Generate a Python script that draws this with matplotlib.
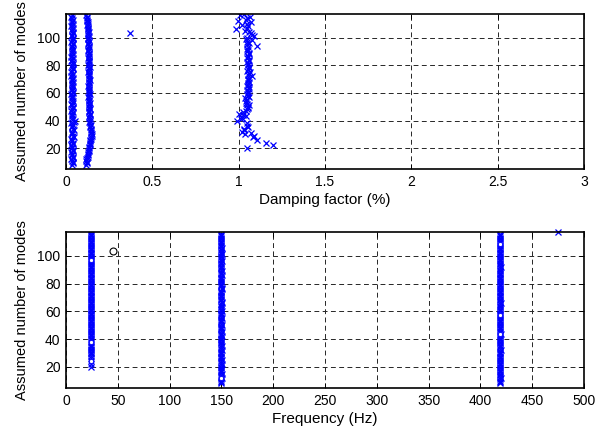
import matplotlib
matplotlib.use("Agg")
import matplotlib.pyplot as plt

plt.rcParams['font.family'] = ['Liberation Sans', 'DejaVu Sans']
plt.rcParams['font.size'] = 10

# Model orders at which poles were identified
orders = [8, 10, 12, 14, 16, 18, 20, 22, 24, 26,
          28, 30, 32, 34, 36, 38, 40, 42, 44, 46,
          48, 50, 52, 54, 56, 58, 60, 62, 64, 66,
          68, 70, 72, 74, 76, 78, 80, 82, 84, 86,
          88, 90, 92, 94, 96, 98, 100, 102, 104, 106,
          108, 110, 112, 114, 116]
orders_odd = [9, 11, 13, 15, 17, 19, 21, 23, 25, 27,
              29, 31, 33, 35, 37, 39, 41, 43, 45, 47,
              49, 51, 53, 55, 57, 59, 61, 63, 65, 67,
              69, 71, 73, 75, 77, 79, 81, 83, 85, 87,
              89, 91, 93, 95, 97, 99, 101, 103, 105, 107,
              109, 111, 113, 115]
orders_c = [20, 22, 24, 26, 28, 30, 32, 34, 36, 38,
            40, 42, 44, 46, 48, 50, 52, 54, 56, 58,
            60, 62, 64, 66, 68, 70, 72, 74, 76, 78,
            80, 82, 84, 86, 88, 90, 92, 94, 96, 98,
            100, 102, 104, 106, 108, 110, 112, 114, 116]
orders_c_mid = [47, 49, 51, 53, 55, 57, 59, 61, 63, 65,
                67, 69, 71, 73, 75, 77, 79, 81, 83, 85,
                87, 89, 91, 93, 95, 97]
orders_c2 = [117, 115, 113, 111, 109, 107, 105, 103, 101, 99,
             45, 43, 41, 35, 33, 31, 29]

# Mode A (~419 Hz, lightly damped)
damp_a = [0.035, 0.040, 0.030, 0.038, 0.033, 0.042, 0.036, 0.031, 0.039, 0.034,
          0.044, 0.037, 0.032, 0.040, 0.035, 0.030, 0.050, 0.036, 0.033, 0.039,
          0.034, 0.038, 0.031, 0.043, 0.036, 0.035, 0.040, 0.032, 0.037, 0.034,
          0.041, 0.036, 0.030, 0.039, 0.035, 0.038, 0.033, 0.042, 0.036, 0.031,
          0.040, 0.034, 0.037, 0.032, 0.039, 0.035, 0.041, 0.033, 0.038, 0.036,
          0.030, 0.040, 0.034, 0.037, 0.035]
damp_a_odd = [0.038, 0.032, 0.041, 0.035, 0.030, 0.039, 0.034, 0.043, 0.036, 0.031,
              0.040, 0.035, 0.045, 0.033, 0.038, 0.048, 0.041, 0.034, 0.037, 0.031,
              0.039, 0.035, 0.042, 0.033, 0.037, 0.030, 0.041, 0.036, 0.039, 0.032,
              0.035, 0.040, 0.037, 0.031, 0.042, 0.034, 0.038, 0.030, 0.039, 0.035,
              0.033, 0.041, 0.036, 0.038, 0.031, 0.040, 0.035, 0.039, 0.032, 0.042,
              0.036, 0.033, 0.039, 0.031]
freq_a = [419.2, 418.8, 419.5, 419.0, 418.6, 419.3, 419.1, 418.9, 419.4, 419.0,
          418.7, 419.2, 419.6, 419.0, 418.8, 419.3, 419.1, 418.9, 419.5, 419.2,
          419.0, 418.7, 419.3, 419.1, 418.9, 419.4, 419.0, 418.8, 419.2, 419.5,
          419.1, 418.9, 419.3, 419.0, 418.7, 419.2, 419.4, 419.0, 418.8, 419.3,
          419.1, 418.9, 419.5, 419.0, 418.8, 419.2, 419.4, 419.1, 418.9, 419.3,
          419.0, 419.2, 418.8, 419.4, 419.1]
freq_a_odd = [419.0, 419.3, 418.8, 419.1, 419.4, 418.9, 419.2, 419.0, 418.7, 419.3,
              419.1, 418.9, 419.4, 419.0, 419.2, 418.8, 419.3, 419.1, 418.9, 419.0,
              419.4, 419.1, 418.8, 419.2, 419.0, 419.3, 418.9, 419.1, 419.4, 418.8,
              419.2, 419.0, 418.9, 419.3, 419.1, 418.8, 419.2, 419.0, 419.4, 418.9,
              419.1, 419.3, 418.8, 419.0, 419.2, 418.9, 419.4, 419.1, 418.8, 419.0,
              419.2, 418.9, 419.3, 419.0]

# Mode B (~150 Hz)
damp_b = [0.118, 0.122, 0.115, 0.125, 0.128, 0.132, 0.135, 0.138, 0.140, 0.142,
          0.146, 0.148, 0.145, 0.144, 0.141, 0.139, 0.137, 0.136, 0.138, 0.135,
          0.137, 0.134, 0.136, 0.133, 0.135, 0.132, 0.134, 0.131, 0.133, 0.135,
          0.132, 0.134, 0.131, 0.133, 0.135, 0.132, 0.130, 0.133, 0.131, 0.134,
          0.132, 0.130, 0.133, 0.131, 0.129, 0.132, 0.130, 0.128, 0.131, 0.127,
          0.129, 0.126, 0.124, 0.121, 0.118]
damp_b_odd = [0.124, 0.117, 0.121, 0.130, 0.126, 0.136, 0.133, 0.141, 0.137, 0.144,
              0.149, 0.143, 0.147, 0.140, 0.143, 0.135, 0.139, 0.134, 0.137, 0.133,
              0.136, 0.131, 0.138, 0.134, 0.130, 0.137, 0.132, 0.136, 0.130, 0.134,
              0.137, 0.131, 0.135, 0.130, 0.134, 0.137, 0.132, 0.135, 0.129, 0.133,
              0.135, 0.128, 0.134, 0.130, 0.133, 0.127, 0.131, 0.129, 0.125, 0.130,
              0.124, 0.128, 0.119, 0.122]
freq_b = [149.6, 149.9, 150.2, 149.8, 150.1, 149.7, 150.0, 150.3, 149.9, 150.1,
          149.8, 150.0, 150.2, 149.7, 150.1, 149.9, 150.0, 150.3, 149.8, 150.1,
          149.9, 150.2, 149.7, 150.0, 150.1, 149.8, 150.2, 149.9, 150.0, 150.3,
          149.8, 150.1, 149.9, 150.0, 150.2, 149.7, 150.1, 149.9, 150.0, 150.2,
          149.8, 150.1, 150.0, 149.9, 150.2, 149.8, 150.0, 150.1, 149.9, 150.2,
          150.0, 149.8, 150.1, 149.9, 150.0]
freq_b_odd = [150.1, 149.8, 150.0, 150.2, 149.9, 150.1, 149.7, 150.0, 150.2, 149.8,
              150.1, 149.9, 150.0, 150.2, 149.8, 150.0, 150.1, 149.9, 150.2, 149.8,
              150.0, 150.1, 149.9, 150.2, 149.8, 150.0, 150.1, 149.9, 150.0, 150.2,
              149.9, 150.1, 150.0, 149.8, 150.2, 150.0, 149.9, 150.1, 150.0, 149.8,
              150.2, 149.9, 150.0, 150.1, 149.8, 150.0, 150.2, 149.9, 150.1, 150.0,
              149.9, 150.1, 150.0, 149.8]

# Mode C (~24 Hz, ~1 % damping)
damp_c = [1.046, 1.200, 1.160, 1.104, 1.085, 1.036, 1.017, 1.030, 1.046, 1.046,
          0.988, 1.017, 1.027, 1.027, 1.050, 1.055, 1.048, 1.040, 1.036, 1.052,
          1.055, 1.050, 1.058, 1.052, 1.060, 1.056, 1.075, 1.058, 1.050, 1.062,
          1.056, 1.050, 1.060, 1.052, 1.058, 1.050, 1.047, 1.104, 1.060, 1.080,
          1.046, 1.075, 1.062, 0.984, 1.056, 1.046, 0.998, 1.046, 1.008]
freq_c = [23.8, 24.2, 24.0, 23.7, 24.3, 24.1, 23.9, 24.0, 24.2, 23.8,
          24.1, 23.9, 24.0, 24.3, 23.8, 24.1, 24.0, 23.9, 24.2, 24.0,
          23.8, 24.1, 24.0, 24.2, 23.9, 24.0, 24.1, 23.8, 24.2, 24.0,
          23.9, 24.1, 24.0, 23.8, 24.2, 24.0, 23.9, 24.1, 24.0, 24.2,
          23.9, 24.0, 24.1, 23.8, 24.2, 24.0, 23.9, 24.1, 24.0]
damp_c_mid = [1.045, 1.052, 1.058, 1.045, 1.050, 1.060, 1.048, 1.055, 1.062, 1.050,
              1.057, 1.053, 1.060, 1.052, 1.065, 1.055, 1.058, 1.053, 1.062, 1.049,
              1.055, 1.060, 1.052, 1.057, 1.050, 1.048]
freq_c_mid = [24.0, 24.2, 23.9, 24.1, 23.8, 24.0, 24.2, 23.9, 24.1, 24.0,
              23.8, 24.1, 24.0, 24.2, 23.9, 24.0, 24.1, 23.8, 24.2, 24.0,
              23.9, 24.1, 24.0, 24.2, 23.8, 24.0]
damp_c2 = [1.030, 1.065, 1.040, 1.070, 1.020, 1.050, 1.035, 1.070, 1.090, 1.040,
           1.000, 1.040, 1.015, 1.055, 1.030, 1.070, 1.090]
freq_c2 = [24.1, 23.9, 24.0, 24.2, 23.8, 24.1, 24.0, 23.9, 24.2, 24.0,
           23.9, 24.1, 24.0, 23.8, 24.2, 24.0, 24.1]

# Spurious poles
spur_damp = [0.37]
spur_damp_order = [103]
spur_freq = [475]
spur_freq_order = [117]
circ_black_freq = [45.7]
circ_black_order = [103.6]

# Stable-pole circles on the frequency diagram
stable_freq = [24.0, 24.0, 24.0, 150.0, 419.0, 419.0, 419.0]
stable_order = [97.3, 37.6, 24.1, 12.0, 108.5, 57.3, 44.0]

blue = '#0000ff'
xkw = dict(linestyle='none', marker='x', color=blue, markersize=5,
           markeredgewidth=0.9)

fig = plt.figure(figsize=(6.07, 4.30), dpi=100)
ax1 = fig.add_axes([0.1087, 0.607, 0.8533, 0.3604])
ax2 = fig.add_axes([0.1087, 0.097, 0.8533, 0.3628])

# Damping diagram
for d, o in ((damp_a, orders), (damp_a_odd, orders_odd),
             (damp_b, orders), (damp_b_odd, orders_odd),
             (damp_c, orders_c), (damp_c_mid, orders_c_mid),
             (damp_c2, orders_c2), (spur_damp, spur_damp_order)):
    ax1.plot(d, o, **xkw)
ax1.set_xlim(0, 3)
ax1.set_ylim(5, 117)
ax1.set_xticks([0, 0.5, 1, 1.5, 2, 2.5, 3])
ax1.set_xticklabels(['0', '0.5', '1', '1.5', '2', '2.5', '3'])
ax1.set_xlabel('Damping factor (%)', labelpad=3, fontsize=11)

# Frequency diagram
for f, o in ((freq_a, orders), (freq_a_odd, orders_odd),
             (freq_b, orders), (freq_b_odd, orders_odd),
             (freq_c, orders_c), (freq_c_mid, orders_c_mid),
             (freq_c2, orders_c2)):
    ax2.plot(f, o, **xkw)
ax2.plot(stable_freq, stable_order, linestyle='none', marker='o',
         markersize=3, markerfacecolor='white', markeredgecolor=blue,
         markeredgewidth=0.6)
ax2.plot(spur_freq, spur_freq_order, clip_on=False, **xkw)
ax2.plot(circ_black_freq, circ_black_order, linestyle='none', marker='o',
         markersize=5, markerfacecolor='none', markeredgecolor='black',
         markeredgewidth=0.8)
ax2.set_xlim(0, 500)
ax2.set_ylim(4.5, 117)
ax2.set_xticks(range(0, 501, 50))
ax2.set_xlabel('Frequency (Hz)', labelpad=3, fontsize=11)

for ax in (ax1, ax2):
    ax.set_yticks([20, 40, 60, 80, 100])
    ax.set_ylabel('Assumed number of modes', labelpad=6, fontsize=10.5)
    ax.grid(True, color='0.15', linestyle=(0, (5, 3.5)), linewidth=0.7)
    ax.set_axisbelow(True)
    ax.tick_params(direction='in', length=3.5, width=0.7, top=True,
                   right=True, pad=4, labelsize=10)
    for s in ax.spines.values():
        s.set_linewidth(1.2)

fig.savefig('out.png', dpi=100)
